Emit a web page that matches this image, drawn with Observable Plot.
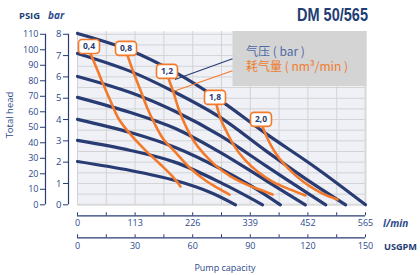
<!DOCTYPE html>
<html><head><meta charset="utf-8">
<script src="https://cdn.jsdelivr.net/npm/d3@7"></script>
<script src="https://cdn.jsdelivr.net/npm/@observablehq/plot@0.6"></script>
<style>body{margin:0;background:#fff} svg{display:block}</style>
</head><body><div id="chart"></div>
<script>
// ---- data (l/min, bar) ----
const pressureLabels = ["8", "7", "6", "5", "4", "3", "2"];
const pressureFlow = [
  [0, 104, 192, 280, 369, 467, 565],
  [0, 104, 192, 280, 369, 447, 526],
  [0, 104, 192, 280, 369, 428, 487],
  [0, 104, 192, 280, 369, 447],
  [0, 104, 192, 280, 339, 398],
  [0, 104, 192, 280, 363],
  [0, 104, 192, 261, 310]
];
const pressureHead = [
  [8.04, 7.24, 6.21, 4.90, 3.35, 1.75, 0],
  [7.10, 6.26, 5.27, 4.10, 2.54, 1.23, 0],
  [6.02, 5.27, 4.38, 3.25, 1.84, 0.91, 0],
  [5.04, 4.33, 3.58, 2.46, 1.15, 0],
  [4.01, 3.39, 2.69, 1.70, 0.91, 0],
  [3.02, 2.55, 1.99, 1.05, 0],
  [2.03, 1.61, 1.14, 0.58, 0]
];
const airLabels = ["0,4", "0,8", "1,2", "1,8", "2,0"];
const airFlow = [
  [25.5, 39.2, 53.0, 66.7, 80.4, 104.0, 133.4, 162.8, 186.4, 202.1],
  [98.1, 109.9, 123.6, 137.3, 151.1, 168.7, 192.3, 221.7, 251.1, 276.6, 298.2],
  [178.5, 188.3, 198.1, 211.8, 227.5, 247.2, 270.7, 300.2, 335.5, 362.9, 382.6],
  [272.7, 280.5, 292.3, 308.0, 327.6, 353.1, 382.6, 417.9, 447.3],
  [362.9, 372.7, 386.5, 404.1, 427.7, 453.2, 480.6, 510.1]
];
const airHead = [
  [7.10, 6.31, 5.51, 4.76, 4.05, 3.30, 2.55, 1.89, 1.33, 0.86],
  [7.01, 6.21, 5.37, 4.52, 3.82, 3.07, 2.46, 1.70, 1.14, 0.77, 0.48],
  [5.93, 5.27, 4.52, 3.72, 3.02, 2.41, 1.85, 1.33, 0.91, 0.67, 0.48],
  [4.71, 4.05, 3.44, 2.74, 2.13, 1.56, 1.09, 0.71, 0.44],
  [3.68, 3.11, 2.50, 1.94, 1.38, 0.91, 0.53, 0.25]
];
const flowTicks = [0, 56.5, 113, 169.5, 226, 282.5, 339, 395.5, 452, 508.5, 565];
const flowLabels = [0, 113, 226, 339, 452, 565];
const usgpmLabels = [0, 30, 60, 90, 120, 150];
const barTicks = [0, 1, 2, 3, 4, 5, 6, 7, 8];
const psigTicks = [0, 10, 20, 30, 40, 50, 60, 70, 80, 90, 100, 110];
const gridHead = [0.5, 1, 1.5, 2, 2.5, 3, 3.5, 4, 4.5, 5, 5.5, 6, 6.5, 7, 7.5, 8];

// ---- tables ----
const pressureRows = pressureLabels.flatMap((s, i) =>
  pressureFlow[i].map((f, j) => ({series: s, flow: f, head: pressureHead[i][j]})));
const airRows = airLabels.flatMap((s, i) =>
  airFlow[i].map((f, j) => ({series: s, flow: f, head: airHead[i][j]})));
const airStarts = airLabels.map((s, i) => ({label: s, flow: airFlow[i][0], head: airHead[i][0]}));

const NAVY = "#283b73", ORANGE = "#f47a2b", BLUE = "#2d4a8c";
const FONT = "'Open Sans', 'Noto Sans', sans-serif";
const usgpmToFlow = 565 / 150, psigToBar = 8 / 110;

const roundBox = {
  draw(ctx) {
    const w = 10.5, h = 7, r = 3.5;
    ctx.moveTo(-w + r, -h); ctx.lineTo(w - r, -h); ctx.arcTo(w, -h, w, -h + r, r);
    ctx.lineTo(w, h - r); ctx.arcTo(w, h, w - r, h, r);
    ctx.lineTo(-w + r, h); ctx.arcTo(-w, h, -w, h - r, r);
    ctx.lineTo(-w, -h + r); ctx.arcTo(-w, -h, -w + r, -h, r); ctx.closePath();
  }
};

const chart = Plot.plot({
  width: 420, height: 275,
  marginLeft: 77, marginRight: 55, marginTop: 31, marginBottom: 70.7,
  x: {domain: [0, 565], axis: null},
  y: {domain: [0, 8.13], axis: null},
  style: {fontFamily: FONT, fontSize: "9px", background: "#fff", color: BLUE},
  marks: [
    Plot.frame({fill: "#eff1f7", stroke: null}),
    Plot.gridX(flowTicks, {stroke: "#d3d3d3", strokeOpacity: 1, strokeWidth: 1}),
    Plot.gridY(gridHead, {stroke: "#d3d3d3", strokeOpacity: 1, strokeWidth: 1}),
    Plot.gridX([565], {stroke: "#d8d8d8", strokeOpacity: 1, strokeWidth: 2}),
    Plot.gridY([0], {stroke: "#dadada", strokeOpacity: 1, strokeWidth: 2}),
    // bar axis
    Plot.ruleX([0], {y1: 0, y2: 8, dx: -9, stroke: NAVY, strokeWidth: 1.2}),
    Plot.axisY({ticks: barTicks, anchor: "left", label: null, tickSize: 5, tickPadding: 2, dx: -9, stroke: NAVY, fill: BLUE, fontSize: 9.5}),
    // PSIG axis
    Plot.ruleX([0], {y1: 0, y2: 8, dx: -32, stroke: NAVY, strokeWidth: 1.2}),
    Plot.axisY({ticks: psigTicks.map(p => p * psigToBar), tickFormat: d => Math.round(d / psigToBar), label: null,
      anchor: "left", tickSize: 5, tickPadding: 2, dx: -32, stroke: NAVY, fill: BLUE, fontSize: 9}),
    // l/min axis
    Plot.ruleY([0], {x1: 0, x2: 565, dy: 11, stroke: NAVY, strokeWidth: 1.2}),
    Plot.axisX({ticks: flowTicks, tickFormat: () => "", label: null, anchor: "bottom", tickSize: 3, dy: 8, stroke: NAVY}),
    Plot.axisX({ticks: flowLabels, label: null, anchor: "bottom", tickSize: 0, tickPadding: 0, dy: 14.5, fill: BLUE, fontSize: 9}),
    // USGPM axis
    Plot.ruleY([0], {x1: 0, x2: 565, dy: 33, stroke: NAVY, strokeWidth: 1.2}),
    Plot.axisX({ticks: flowTicks, tickFormat: () => "", label: null, anchor: "bottom", tickSize: 3, dy: 30, stroke: NAVY}),
    Plot.axisX({ticks: usgpmLabels.map(u => u * usgpmToFlow), tickFormat: d => Math.round(d / usgpmToFlow), label: null,
      anchor: "bottom", tickSize: 0, tickPadding: 0, dy: 37.5, fill: BLUE, fontSize: 9}),
    // curves
    Plot.line(pressureRows, {x: "flow", y: "head", z: "series", stroke: NAVY, strokeWidth: 3.2, curve: "catmull-rom"}),
    Plot.line(airRows, {x: "flow", y: "head", z: "series", stroke: ORANGE, strokeWidth: 2.6, curve: "catmull-rom"}),
    Plot.dot(airStarts, {x: "flow", y: "head", symbol: roundBox, r: 5, dx: -1.5, dy: -7, fill: "#fff", stroke: ORANGE, strokeWidth: 1.6}),
    Plot.text(airStarts, {x: "flow", y: "head", text: "label", dx: -1.5, dy: -7, fill: NAVY, fontWeight: "bold", fontSize: 8.5})
  ]
});
document.getElementById("chart").appendChild(chart);

const svg = d3.select(chart);
const add = (x, y, txt, o = {}) => svg.append("text").attr("x", x).attr("y", y)
  .attr("text-anchor", o.anchor || "start").attr("fill", o.fill || BLUE).attr("font-size", o.size || 9)
  .attr("font-weight", o.weight || "normal").attr("font-style", o.style || "normal")
  .attr("font-family", o.family || FONT).text(txt);
// legend box
const lg = svg.append("g");
lg.append("rect").attr("x", 232.5).attr("y", 31).attr("width", 134).attr("height", 55).attr("fill", "#d4d4d4");
lg.append("line").attr("x1", 232.5).attr("y1", 58.7).attr("x2", 175).attr("y2", 79.5).attr("stroke", NAVY).attr("stroke-width", 1.1);
lg.append("line").attr("x1", 232.5).attr("y1", 70.7).attr("x2", 174.5).attr("y2", 91).attr("stroke", ORANGE).attr("stroke-width", 1.1);
add(246, 56, "气压 ( bar )", {fill: "#4f6aa6", size: 12, family: "'Noto Sans CJK SC', sans-serif"});
add(246, 71, "耗气量 ( nm³/min )", {fill: "#f07a2a", size: 12, family: "'Noto Sans CJK SC', sans-serif"});
// titles
add(297, 21, "DM 50/565", {fill: "#233d73", size: 19, weight: "bold", family: "'Liberation Sans Narrow', 'Liberation Sans', sans-serif"})
  .attr("textLength", 71).attr("lengthAdjust", "spacingAndGlyphs");
add(19, 19, "PSIG", {fill: "#233d73", size: 9.5, weight: "bold"}).attr("textLength", 21).attr("lengthAdjust", "spacingAndGlyphs");
add(48, 19, "bar", {size: 10, weight: "bold", style: "italic"});
add(383, 226.5, "l/min", {size: 10, weight: "bold", style: "italic"});
add(384, 250, "USGPM", {fill: "#233d73", size: 9.5, weight: "bold"}).attr("textLength", 33).attr("lengthAdjust", "spacingAndGlyphs");
add(225, 270.5, "Pump capacity", {anchor: "middle"});
svg.append("text").attr("transform", "translate(13,115) rotate(-90)").attr("text-anchor", "middle").attr("fill", BLUE)
  .attr("font-size", 9.5).attr("font-family", FONT).text("Total head");
</script>
</body></html>
